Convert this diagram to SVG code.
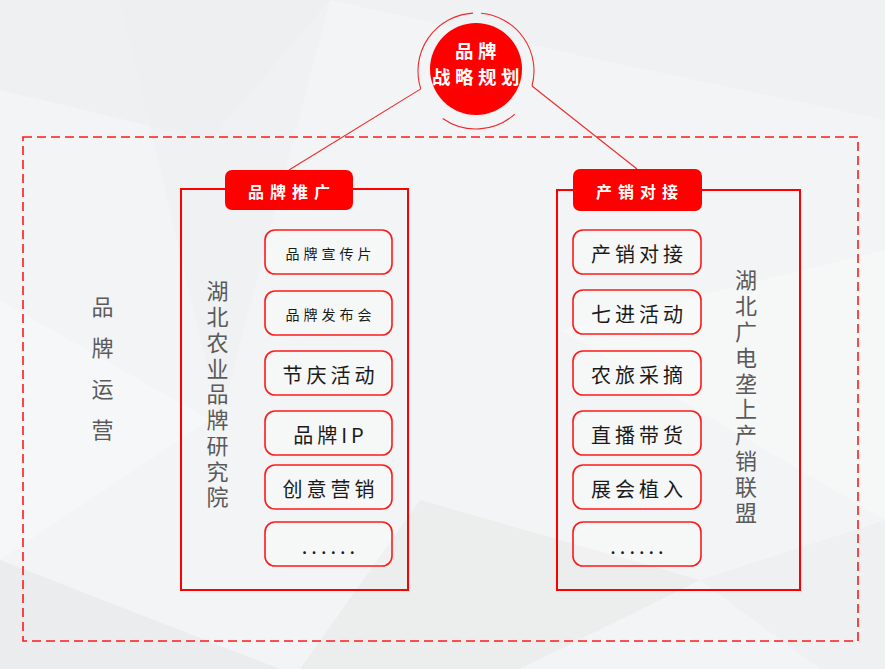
<svg xmlns="http://www.w3.org/2000/svg" width="885" height="669" viewBox="0 0 885 669">
<defs>
<style>
.cjk{font-family:"Noto Sans CJK SC","Noto Sans",sans-serif;}
.panel{fill:none;stroke:#ff0000;stroke-width:2;}
.item{fill:#ffffff;fill-opacity:0.25;stroke:#ff1a1a;stroke-width:1.6;}
.tag{fill:#ff0000;}
.tagtxt{fill:#ffffff;font-size:16px;font-weight:bold;letter-spacing:6px;text-anchor:middle;}
.it{fill:#1a1a1a;font-size:20px;letter-spacing:4px;text-anchor:middle;}
.its{fill:#1a1a1a;font-size:14px;letter-spacing:4px;text-anchor:middle;}
.vt{fill:#5a5a5a;font-size:22px;text-anchor:middle;writing-mode:vertical-rl;}
.conn{fill:none;stroke:#ee2a2a;stroke-width:1.1;}
</style>
</defs>
<g id="background">
<rect x="0" y="0" width="885" height="669" fill="#f3f4f5"/>
<polygon points="0,0 330,0 210,140 0,90" fill="#eef0f2"/>
<polygon points="120,0 330,0 220,420" fill="#eceef0" opacity="0.6"/>
<polygon points="330,0 885,0 885,120 600,60" fill="#f0f1f3"/>
<polygon points="0,300 210,420 0,560" fill="#f6f7f8"/>
<polygon points="420,500 700,580 520,669 300,669" fill="#eceded"/>
<polygon points="700,580 885,520 885,669 820,669" fill="#eef0f1"/>
<polygon points="0,560 280,669 0,669" fill="#ebecee"/>
<polygon points="560,330 885,250 885,520" fill="#f6f7f8" opacity="0.8"/>
</g>
<g id="frame">
<rect x="23" y="137" width="835" height="504" fill="none" stroke="#ff1a1a" stroke-width="1.6" stroke-dasharray="9 5"/>
</g>
<g id="connectors">
<line class="conn" x1="420.8" y1="88.9" x2="289" y2="170"/>
<line class="conn" x1="532" y1="86" x2="637" y2="169"/>
</g>
<g id="strategy">
<path class="conn" d="M 420.8 88.9 A 58 58 0 0 1 473 13.1"/>
<path class="conn" d="M 481.1 13.2 A 58 58 0 0 1 532 86"/>
<path class="conn" d="M 514.8 114.1 A 58 58 0 0 1 442.7 118.5"/>
<circle cx="476" cy="69" r="46" fill="#ff0000"/>
<text class="cjk" x="478" y="58" fill="#ffffff" font-size="18.5" font-weight="bold" letter-spacing="4.5" text-anchor="middle">品牌</text>
<text class="cjk" x="478" y="84" fill="#ffffff" font-size="18.5" font-weight="bold" letter-spacing="4.5" text-anchor="middle">战略规划</text>
</g>
<g id="brand-ops">
<text class="cjk vt" x="102.5" y="378" letter-spacing="19">品牌运营</text>
</g>
<g id="panel-left">
<rect class="panel" x="181" y="189" width="227" height="401"/>
<rect class="tag" x="225" y="170" width="128" height="40" rx="7"/>
<text class="cjk tagtxt" x="292" y="198">品牌推广</text>
<text class="cjk vt" x="217.5" y="396" letter-spacing="3.75">湖北农业品牌研究院</text>
</g>
<g id="left-items">
<g id="l1"><rect class="item" x="265" y="230" width="127" height="44" rx="10"/><text class="cjk its" x="330.5" y="259">品牌宣传片</text></g>
<g id="l2"><rect class="item" x="265" y="291" width="127" height="44" rx="10"/><text class="cjk its" x="330.5" y="320">品牌发布会</text></g>
<g id="l3"><rect class="item" x="265" y="351" width="127" height="44" rx="10"/><text class="cjk it" x="330.5" y="382.5">节庆活动</text></g>
<g id="l4"><rect class="item" x="265" y="411" width="127" height="44" rx="10"/><text class="cjk it" x="330.5" y="442.5">品牌IP</text></g>
<g id="l5"><rect class="item" x="265" y="465" width="127" height="44" rx="10"/><text class="cjk it" x="330.5" y="496.5">创意营销</text></g>
<g id="l6"><rect class="item" x="265" y="522" width="127" height="44" rx="10"/><text class="cjk it" x="330.5" y="554">......</text></g>
</g>
<g id="panel-right">
<rect class="panel" x="557" y="190" width="243" height="400"/>
<rect class="tag" x="573" y="169" width="129" height="42" rx="7"/>
<text class="cjk tagtxt" x="640" y="198">产销对接</text>
<text class="cjk vt" x="746" y="398" letter-spacing="3.8">湖北广电垄上产销联盟</text>
</g>
<g id="right-items">
<g id="r1"><rect class="item" x="573" y="230" width="128" height="44" rx="10"/><text class="cjk it" x="639" y="261.5">产销对接</text></g>
<g id="r2"><rect class="item" x="573" y="290" width="128" height="44" rx="10"/><text class="cjk it" x="639" y="321.5">七进活动</text></g>
<g id="r3"><rect class="item" x="573" y="351" width="128" height="44" rx="10"/><text class="cjk it" x="639" y="382.5">农旅采摘</text></g>
<g id="r4"><rect class="item" x="573" y="411" width="128" height="44" rx="10"/><text class="cjk it" x="639" y="442.5">直播带货</text></g>
<g id="r5"><rect class="item" x="573" y="465" width="128" height="44" rx="10"/><text class="cjk it" x="639" y="496.5">展会植入</text></g>
<g id="r6"><rect class="item" x="573" y="522" width="128" height="44" rx="10"/><text class="cjk it" x="639" y="554">......</text></g>
</g>
</svg>
